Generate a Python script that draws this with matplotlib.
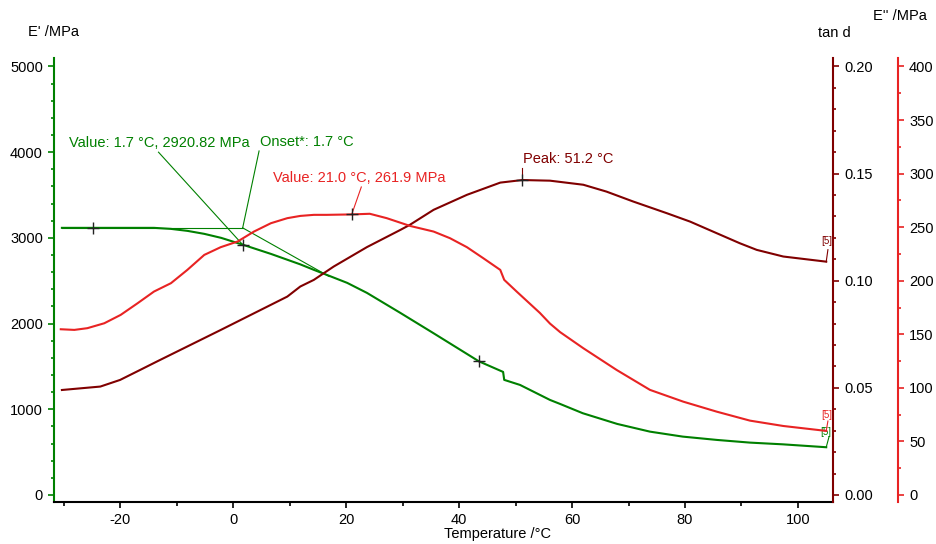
import matplotlib
matplotlib.use("Agg")
import matplotlib.pyplot as plt
from matplotlib.ticker import MultipleLocator, FormatStrFormatter

plt.rcParams['font.family'] = ['Liberation Sans', 'DejaVu Sans']
plt.rcParams['axes.unicode_minus'] = False

GREEN = '#008000'
DKRED = '#800000'
RED = '#e82323'

# storage modulus E' (MPa)
t_storage = [-30.3, -24.8, -14.0, -11.0, -8.1, -5.1, -2.1, 1.7, 6.7, 11.9, 14.3, 16.6,
             20.2, 23.7, 29.6, 35.4, 43.5, 47.8, 48.0, 50.8, 56.1, 57.9, 61.9, 68.0,
             73.8, 79.6, 85.7, 91.5, 97.3, 105.0]
e_storage = [3117, 3117, 3117, 3105, 3082, 3047, 3000, 2920.82, 2813, 2691, 2627, 2568,
             2475, 2358, 2125, 1891, 1560, 1436, 1343, 1284, 1109, 1062, 954, 829,
             739, 681, 642, 611, 591, 557]

# loss modulus E'' (MPa)
t_loss = [-30.5, -28.1, -25.8, -22.8, -19.9, -16.9, -14.0, -11.0, -8.1, -5.1, -2.2, 0.8,
          3.7, 6.7, 9.6, 11.9, 14.3, 16.6, 21.0, 24.2, 27.2, 31.3, 35.5, 38.4,
          41.4, 44.3, 47.3, 48.0, 50.2, 54.3, 56.1, 57.9, 62.0, 67.9, 73.8, 79.7,
          85.6, 91.5, 97.4, 105.0]
e_loss = [154.7, 154.1, 155.7, 160.3, 168.1, 179.0, 189.9, 197.7, 210.1, 224.1, 231.3, 236.6,
          245.9, 253.7, 258.4, 260.5, 261.5, 261.5, 261.9, 262.5, 258.4, 251.2, 245.9, 239.7,
          231.3, 221.0, 210.1, 200.8, 189.9, 170.0, 160.0, 152.0, 137.0, 116.7, 98.1, 87.1,
          77.8, 69.4, 64.4, 59.8]

# loss factor tan d
t_tand = [-30.3, -23.5, -20.0, -16.5, -13.4, -2.2, 3.7, 9.6, 11.9, 14.3, 17.8, 23.7,
          29.6, 31.3, 35.5, 41.4, 47.3, 51.2, 56.1, 62.0, 66.1, 70.8, 76.8, 80.9,
          85.6, 89.7, 92.7, 97.4, 105.0]
tand = [0.0490, 0.0506, 0.0537, 0.0583, 0.0624, 0.0770, 0.0848, 0.0926, 0.0973, 0.1004, 0.1066, 0.1157,
        0.1237, 0.1261, 0.1331, 0.1401, 0.1458, 0.1470, 0.1467, 0.1448, 0.1416, 0.1370, 0.1315, 0.1276,
        0.1222, 0.1175, 0.1144, 0.1113, 0.1089]

# evaluation results
onset_t, onset_e = 1.7, 3117
value_t, value_e = 1.7, 2920.82
loss_t, loss_e = 21.0, 261.9
peak_t, peak_tand = 51.2, 0.147
step_t, step_e = 43.5, 1560
base_t, base_e = -24.8, 3117

fig = plt.figure(figsize=(9.36, 5.44), dpi=100)
ax = fig.add_axes([54 / 936, 1 - 502 / 544, 779 / 936, 444 / 544])
ax2 = ax.twinx()
ax3 = ax.twinx()

ylo, yhi = -82, 5099
ax.set_ylim(ylo, yhi)
ax2.set_ylim(ylo / 25000, yhi / 25000)
ax3.set_ylim(ylo / 12.5, yhi / 12.5)
ax.set_xlim(-31.7, 106.2)

lw = 1.5
ax.plot(t_storage, e_storage, color=GREEN, lw=lw, zorder=3)
ax2.plot(t_tand, tand, color=DKRED, lw=lw)
ax3.plot(t_loss, e_loss, color=RED, lw=lw)

# spines
for s in ['top', 'right']:
    ax.spines[s].set_visible(False)
ax.spines['left'].set_color(GREEN)
ax.spines['left'].set_linewidth(1.5)
ax.spines['bottom'].set_color('black')
ax.spines['bottom'].set_linewidth(1.5)
for a in (ax2, ax3):
    for s in ['top', 'left', 'bottom']:
        a.spines[s].set_visible(False)
ax2.spines['right'].set_color(DKRED)
ax2.spines['right'].set_linewidth(1.5)
ax3.spines['right'].set_color(RED)
ax3.spines['right'].set_linewidth(1.5)
ax3.spines['right'].set_position(('axes', 1 + 65 / 779))

# ticks
ax.set_xticks([-20, 0, 20, 40, 60, 80, 100])
ax.xaxis.set_minor_locator(MultipleLocator(10))
ax.set_yticks([0, 1000, 2000, 3000, 4000, 5000])
ax.yaxis.set_minor_locator(MultipleLocator(200))
ax2.set_yticks([0.0, 0.05, 0.10, 0.15, 0.20])
ax2.yaxis.set_major_formatter(FormatStrFormatter('%.2f'))
ax2.yaxis.set_minor_locator(MultipleLocator(0.01))
ax3.set_yticks([0, 50, 100, 150, 200, 250, 300, 350, 400])
ax3.yaxis.set_minor_locator(MultipleLocator(25))

ax.tick_params(axis='x', which='major', length=4, width=1.2, pad=4, labelsize=10.5)
ax.tick_params(axis='x', which='minor', length=3, width=1.2)
ax.tick_params(axis='y', which='major', color=GREEN, length=4, width=1.2, pad=4, labelsize=10.5)
ax.tick_params(axis='y', which='minor', color=GREEN, length=2.5, width=1.2)
ax2.tick_params(axis='y', which='major', color=DKRED, length=4, width=1.2, pad=4, labelsize=10.5)
ax2.tick_params(axis='y', which='minor', color=DKRED, length=2.5, width=1.2)
ax3.tick_params(axis='y', which='major', color=RED, length=4, width=1.2, pad=4, labelsize=10.5)
ax3.tick_params(axis='y', which='minor', color=RED, length=2.5, width=1.2)

# axis titles
fig.text(53 / 936, 1 - 32 / 544, "E' /MPa", ha='center', va='center', fontsize=10.5)
fig.text(834 / 936, 1 - 33 / 544, "tan d", ha='center', va='center', fontsize=10.5)
fig.text(900 / 936, 1 - 16 / 544, "E'' /MPa", ha='center', va='center', fontsize=10.5)
fig.text(497 / 936, 1 - 534 / 544, "Temperature /°C", ha='center', va='center', fontsize=10.5)

# onset construction on E'
ax.plot([-30.3, onset_t], [onset_e, onset_e], color=GREEN, lw=0.8, zorder=2)
ax.plot([onset_t, 17.0], [onset_e, 2550], color=GREEN, lw=0.8, zorder=2)

mk = dict(marker='+', color='#222222', markersize=9, mew=1.0, ls='none', zorder=5)
ax.plot([base_t, value_t, step_t], [base_e, value_e, step_e], **mk)
ax3.plot([loss_t], [loss_e], **mk)
ax2.plot([peak_t], [peak_tand], **mk)

# annotations
fs = 10.5
ax.text(-29.1, 4107, "Value: 1.7 °C, 2920.82 MPa", color=GREEN, fontsize=fs, va='center')
ax.plot([-13.2, value_t], [4000, value_e], color=GREEN, lw=0.8)
ax.text(4.8, 4119, "Onset*: 1.7 °C", color=GREEN, fontsize=fs, va='center')
ax.plot([4.6, onset_t], [4014, onset_e], color=GREEN, lw=0.8)
ax3.text(7.05, 3699 / 12.5, "Value: 21.0 °C, 261.9 MPa", color=RED, fontsize=fs, va='center')
ax3.plot([22.7, loss_t], [287.5, loss_e], color=RED, lw=0.8)
ax2.text(51.3, 3921 / 25000, "Peak: 51.2 °C", color=DKRED, fontsize=fs, va='center')
ax2.plot([peak_t, peak_t], [0.1526, peak_tand], color=DKRED, lw=0.8)

# curve end markers
ax2.plot([t_tand[-1], 105.3], [tand[-1], 0.1145], color=DKRED, lw=0.8)
ax2.text(105.1, 0.1185, "[5]", color=DKRED, fontsize=7, ha='center', va='center')
ax3.plot([t_loss[-1], 105.3], [e_loss[-1], 69], color=RED, lw=0.8)
ax3.text(105.1, 75, "[5]", color=RED, fontsize=7, ha='center', va='center')
ax.plot([t_storage[-1], 105.5], [e_storage[-1], 680], color=GREEN, lw=0.8)
ax.text(105.0, 735, "[5]", color=GREEN, fontsize=7, ha='center', va='center')

fig.savefig('out.png', dpi=100)
